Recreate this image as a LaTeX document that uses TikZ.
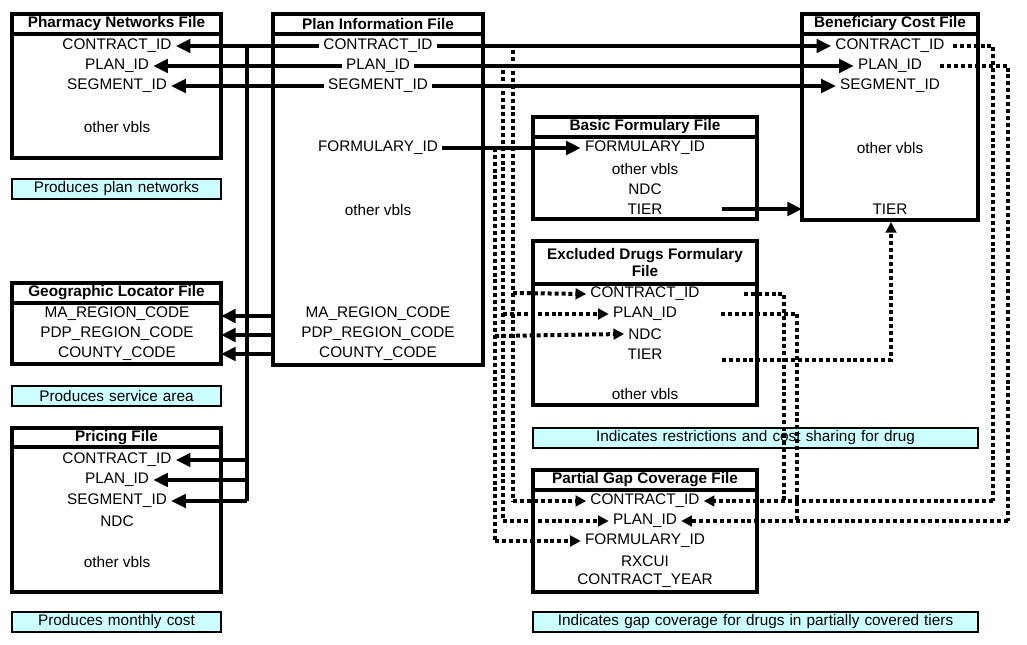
\documentclass[tikz,border=0pt]{standalone}
\usepackage{fontspec}
\setmainfont{Liberation Sans}
\usetikzlibrary{arrows.meta}
\definecolor{notec}{RGB}{204,255,255}
\begin{document}
\begin{tikzpicture}[x=0.75pt,y=-0.75pt,
  box/.style={draw,line width=3pt},
  ttl/.style={font=\fontsize{11.5}{13}\selectfont\bfseries},
  t/.style={font=\fontsize{11.5}{13}\selectfont,inner sep=3pt},
  note/.style={draw,line width=1.5pt,fill=notec,font=\fontsize{11.5}{13}\selectfont,align=center,inner sep=0pt,minimum height=15pt},
  sol/.style={line width=3pt,-{Triangle[length=11pt,width=10pt]}},
  bus/.style={line width=3pt},
  dot/.style={line width=3pt,dash pattern=on 3pt off 2.2pt},
  doa/.style={dot,-{Triangle[length=8pt,width=8pt]}}]
\useasboundingbox (0,0) rectangle (1027,645);
% boxes
\draw[box] (12,14) rectangle (221,158); \draw[box] (12,34)--(221,34);
\node[ttl] (phT) at (116.5,24) {Pharmacy Networks File};
\draw[box] (273,14) rectangle (483,365); \draw[box] (273,34)--(483,34);
\node[ttl] (plT) at (378,24) {Plan Information File};
\draw[box] (802,14) rectangle (978,220); \draw[box] (802,34)--(978,34);
\node[ttl] (beT) at (890,24) {Beneficiary Cost File};
\draw[box] (533,117) rectangle (757,219); \draw[box] (533,137)--(757,137);
\node[ttl] (bfT) at (645,127) {Basic Formulary File};
\draw[box] (533,241) rectangle (757,405); \draw[box] (533,284)--(757,284);
\node[ttl,align=center] (exT) at (645,262.5) {Excluded Drugs Formulary\\File};
\draw[box] (533,470) rectangle (757,592); \draw[box] (533,490)--(757,490);
\node[ttl] (pgT) at (645,480) {Partial Gap Coverage File};
\draw[box] (12,283) rectangle (221,364); \draw[box] (12,303)--(221,303);
\node[ttl] (geT) at (116.5,293) {Geographic Locator File};
\draw[box] (12,428) rectangle (221,592); \draw[box] (12,447)--(221,447);
\node[ttl] (prT) at (116.5,437.5) {Pricing File};
% notes
\node[note,text width=156.75pt] (n1) at (116.5,189) {Produces plan networks};
\node[note,text width=156.75pt] (n2) at (116.5,396) {Produces service area};
\node[note,text width=156.75pt] (n3) at (116.5,622) {Produces monthly cost};
\node[note,text width=333.75pt] (n4) at (755.5,438) {Indicates restrictions and cost sharing for drug};
\node[note,text width=333.75pt] (n5) at (755.5,622) {Indicates gap coverage for drugs in partially covered tiers};
% texts
\node[t] (phC) at (117,46) {CONTRACT\_ID};
\node[t] (phP) at (117,66) {PLAN\_ID};
\node[t] (phS) at (117,86) {SEGMENT\_ID};
\node[t] (phO) at (117,127) {other vbls};
\node[t] (plC) at (378,46) {CONTRACT\_ID};
\node[t] (plP) at (378,66) {PLAN\_ID};
\node[t] (plS) at (378,86) {SEGMENT\_ID};
\node[t] (plF) at (378,148) {FORMULARY\_ID};
\node[t] (plO) at (378,210) {other vbls};
\node[t] (plM) at (378,314) {MA\_REGION\_CODE};
\node[t] (plD) at (378,334) {PDP\_REGION\_CODE};
\node[t] (plY) at (378,354) {COUNTY\_CODE};
\node[t] (beC) at (890,46) {CONTRACT\_ID};
\node[t] (beP) at (890,66) {PLAN\_ID};
\node[t] (beS) at (890,86) {SEGMENT\_ID};
\node[t] (beO) at (890,148) {other vbls};
\node[t] (beT2) at (890,209) {TIER};
\node[t] (bfF) at (645,148) {FORMULARY\_ID};
\node[t] (bfO) at (645,169) {other vbls};
\node[t] (bfN) at (645,189) {NDC};
\node[t] (bfT2) at (645,209) {TIER};
\node[t] (exC) at (645,294) {CONTRACT\_ID};
\node[t] (exP) at (645,314) {PLAN\_ID};
\node[t] (exN) at (645,334) {NDC};
\node[t] (exT2) at (645,354) {TIER};
\node[t] (exO) at (645,394) {other vbls};
\node[t] (pgC) at (645,501) {CONTRACT\_ID};
\node[t] (pgP) at (645,521) {PLAN\_ID};
\node[t] (pgF) at (645,541) {FORMULARY\_ID};
\node[t] (pgR) at (645,561) {RXCUI};
\node[t] (pgY) at (645,581) {CONTRACT\_YEAR};
\node[t] (geM) at (117,314) {MA\_REGION\_CODE};
\node[t] (geD) at (117,334) {PDP\_REGION\_CODE};
\node[t] (geY) at (117,354) {COUNTY\_CODE};
\node[t] (prC) at (117,460) {CONTRACT\_ID};
\node[t] (prP) at (117,480) {PLAN\_ID};
\node[t] (prS) at (117,501) {SEGMENT\_ID};
\node[t] (prN) at (117,521) {NDC};
\node[t] (prO) at (117,562) {other vbls};
% solid connectors
\draw[sol] (plC.west) -- (phC.east);
\draw[sol] (plP.west) -- (phP.east);
\draw[sol] (plS.west) -- (phS.east);
\coordinate (b1) at (247,46); \coordinate (b2) at (247,501);
\draw[bus] (b1) -- (b2);
\draw[sol] (247,460) -- (prC.east);
\draw[sol] (247,480) -- (prP.east);
\draw[sol] (b2) -- (prS.east);
\draw[sol] (plC.east) -- (beC.west);
\draw[sol] (plP.east) -- (beP.west);
\draw[sol] (plS.east) -- (beS.west);
\draw[sol] (plF.east) -- (bfF.west);
\draw[sol] (bfT2.east) ++(55,0) -- (802,209);
\draw[sol] (273,316) -- (221,316);
\draw[sol] (273,335) -- (221,335);
\draw[sol] (273,354) -- (221,354);
% dotted connectors
\draw[dot] (plC.east) ++(4,0) -| (513,501);
\draw[doa] (513,293) -- (exC.west);
\draw[doa] (513,501) -- (pgC.west);
\draw[dot] (plP.east) ++(10,0) -| (503,521);
\draw[doa] (503,314) -- (exP.west);
\draw[doa] (503,521) -- (pgP.west);
\draw[dot] (plF.east) ++(4,0) -| (495,541);
\draw[doa] (495,336) -- (exN.west);
\draw[doa] (495,541) -- (pgF.west);
\draw[dot] (beC.east) ++(4,0) -| (993,501);
\draw[doa] (993,501) -- (pgC.east);
\draw[dot] (beP.east) ++(14,0) -| (1008,521);
\draw[doa] (1008,521) -- (pgP.east);
\draw[dot] (exC.east) ++(40,0) -| (784,501);
\draw[dot] (exP.east) ++(40,0) -| (797,521);
\draw[dot] (exT2.east) ++(55,6) -| (891,225);
\draw[doa] (891,232) -- (891,222);
\end{tikzpicture}
\end{document}
